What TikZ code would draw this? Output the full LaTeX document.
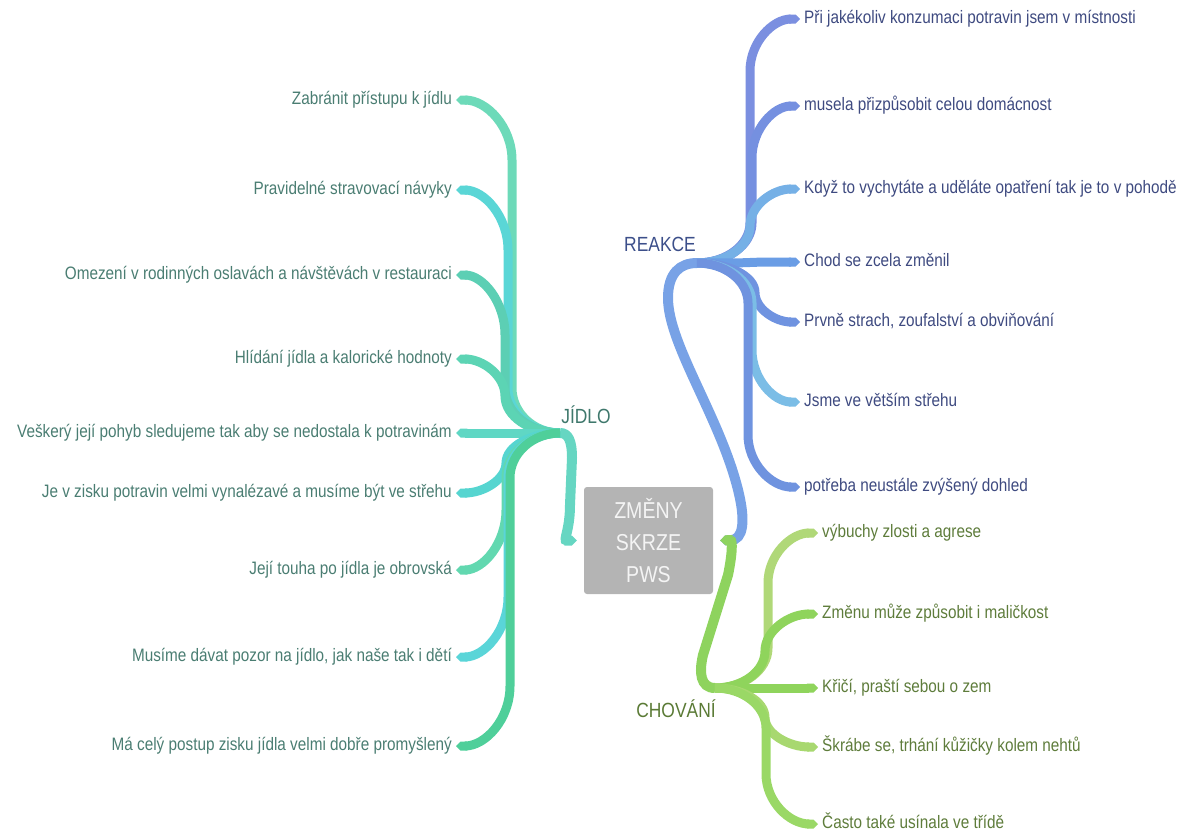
\documentclass[tikz,border=0pt]{standalone}
\usepackage{fontspec}
\setmainfont{Liberation Sans}[FakeStretch=0.85]
\usetikzlibrary{arrows.meta}

% box and text colours
\definecolor{boxgray}{HTML}{B4B4B4}
\definecolor{boxtext}{HTML}{F4F4F4}
\definecolor{foodtext}{HTML}{4A7D72}
\definecolor{foodlabel}{HTML}{3F786C}
\definecolor{reacttext}{HTML}{3E4A80}
\definecolor{reactlabel}{HTML}{3C4F8A}
\definecolor{behavtext}{HTML}{5E7C3B}
\definecolor{behavlabel}{HTML}{5A7A35}
% stems from the centre
\definecolor{foodstem}{HTML}{66D6C2}
\definecolor{reactstem}{HTML}{78A2E6}
\definecolor{behavstem}{HTML}{8ED35E}
% limb colours
\definecolor{fa}{HTML}{6DDAB9}\definecolor{fb}{HTML}{5AD6D6}\definecolor{fc}{HTML}{5CCFB4}
\definecolor{fd}{HTML}{5CD4B4}\definecolor{fe}{HTML}{5FD7C4}\definecolor{ff}{HTML}{56D5D0}
\definecolor{fg}{HTML}{62D8B0}\definecolor{fh}{HTML}{5AD5D8}\definecolor{fi}{HTML}{4FCF9A}
\definecolor{ra}{HTML}{7B8FE0}\definecolor{rb}{HTML}{7590E0}\definecolor{rc}{HTML}{75B0E6}
\definecolor{rd}{HTML}{6A9DE5}\definecolor{re}{HTML}{6F93E0}\definecolor{rf}{HTML}{7BBDE6}
\definecolor{rg}{HTML}{6F93DF}
\definecolor{ba}{HTML}{B0D878}\definecolor{bb}{HTML}{8FD45C}\definecolor{bc}{HTML}{8FD45C}
\definecolor{bd}{HTML}{A8D870}\definecolor{be}{HTML}{9AD866}

\newcommand\leaffont{\fontsize{18}{20}\selectfont}
\newcommand\hubfont{\fontsize{20.5}{24}\selectfont}
\newcommand\corefont{\fontsize{23}{32}\selectfont}

% limb from a hub (#2 at #3,#4) via a trunk at x=#5 to a leaf end (#7 at #8,#6)
\newcommand\mmbranch[8]{%
  \pgfmathsetmacro\bdy{#6-(#4)}%
  \pgfmathsetmacro\bha{min(\mmlimA,abs(\bdy)/2)*sign(\bdy)}%
  \pgfmathsetmacro\bhb{min(\mmlimB,abs(\bdy)/2)*sign(\bdy)}%
  \draw[limb,#1] (#2) .. controls ({#3+0.55*(#5-(#3))},#4) and (#5,{#4+0.45*\bha}) ..
    (#5,{#4+\bha}) -- (#5,{#6-\bhb}) .. controls (#5,{#6-0.45*\bhb}) and ({#8+0.55*(#5-(#8))},#6) .. (#7);
}

\begin{document}
\begin{tikzpicture}[x=1pt,y=-1pt,
  limb/.style={line width=9pt,line cap=butt,-{Triangle Cap}},
  stem/.style={line width=10pt,line cap=butt,{Triangle Cap}-},
  leafL/.style={anchor=mid east,inner xsep=4pt,inner ysep=0pt,font=\leaffont},
  leafR/.style={anchor=mid west,inner xsep=4pt,inner ysep=0pt,font=\leaffont},
  hub/.style={inner sep=0pt,font=\hubfont},
  core/.style={fill=boxgray,text=boxtext,rounded corners=3pt,minimum width=129pt,
    minimum height=107pt,align=center,font=\corefont,inner sep=0pt}]
\useasboundingbox (0,0) rectangle (1187,835);

% centre
\node[core] (center) at (648.5,540.5) {ZMĚNY\\SKRZE\\PWS};

% hubs
\coordinate (jJ) at (560,433);
\coordinate (jR) at (697,263);
\coordinate (jC) at (715,688);
\node[hub,text=foodlabel]  (lJ) at (586,415) {JÍDLO};
\node[hub,text=reactlabel] (lR) at (660,244) {REAKCE};
\node[hub,text=behavlabel] (lC) at (676,709) {CHOVÁNÍ};

% stems from the centre to the hubs
\draw[stem,foodstem] ([xshift=-7pt]center.west) .. controls +(-14,0) and +(0,25) .. (570,505)
  -- (572,458) .. controls +(0,-18) and +(8,0) .. (jJ);
\draw[stem,reactstem] ([xshift=7pt]center.east) .. controls (744,540) and (745,520) .. (739,494)
  .. controls (722,420) and (668,345) .. (668,298) .. controls (668,273) and (680,263) .. (jR);
\draw[stem,behavstem] ([xshift=7pt]center.east) .. controls (733,540) and (732,556) .. (728,575)
  -- (703,655) .. controls (699,672) and (700,688) .. (jC);

% JÍDLO (text sits 2pt below the limb's end)
\def\mmlimA{45}\def\mmlimB{60}
\foreach \nm/\yy/\tx/\col/\txt in {
  fza/100/512/fa/{Zabránit přístupu k jídlu},
  fzb/190/508/fb/{Pravidelné stravovací návyky},
  fzc/275/505/fc/{Omezení v rodinných oslavách a návštěvách v restauraci},
  fzd/359/505/fd/{Hlídání jídla a kalorické hodnoty},
  fze/433/505/fe/{Veškerý její pohyb sledujeme tak aby se nedostala k potravinám},
  fzf/493/506/ff/{Je v zisku potravin velmi vynalézavé a musíme být ve střehu},
  fzg/570/506/fg/{Její touha po jídla je obrovská},
  fzh/657/508/fh/{Musíme dávat pozor na jídlo, jak naše tak i dětí},
  fzi/746/510/fi/{Má celý postup zisku jídla velmi dobře promyšlený}}{
  \node[leafL,text=foodtext] (\nm) at (456,\yy+2) {\txt};
  \mmbranch{\col}{jJ}{560}{433}{\tx}{\yy}{[yshift=2pt]\nm.mid east}{456}
}

% REAKCE
\def\mmlimA{40}\def\mmlimB{52}
\foreach \nm/\yy/\tx/\col/\txt in {
  rza/19/750/ra/{Při jakékoliv konzumaci potravin jsem v místnosti},
  rzb/106/752/rb/{musela přizpůsobit celou domácnost},
  rzc/189/750/rc/{Když to vychytáte a uděláte opatření tak je to v pohodě},
  rzd/262/750/rd/{Chod se zcela změnil},
  rze/322/755/re/{Prvně strach, zoufalství a obviňování},
  rzf/402/752/rf/{Jsme ve větším střehu},
  rzg/487/748/rg/{potřeba neustále zvýšený dohled}}{
  \node[leafR,text=reacttext] (\nm) at (800,\yy+2) {\txt};
  \mmbranch{\col}{jR}{697}{263}{\tx}{\yy}{[yshift=2pt]\nm.mid west}{800}
}

% CHOVÁNÍ
\def\mmlimA{40}\def\mmlimB{50}
\foreach \nm/\yy/\tx/\col/\txt in {
  bza/533/768/ba/{výbuchy zlosti a agrese},
  bzb/614/765/bb/{Změnu může způsobit i maličkost},
  bzc/688/765/bc/{Křičí, praští sebou o zem},
  bzd/747/765/bd/{Škrábe se, trhání kůžičky kolem nehtů},
  bze/824/766/be/{Často také usínala ve třídě}}{
  \node[leafR,text=behavtext] (\nm) at (818,\yy+2) {\txt};
  \mmbranch{\col}{jC}{715}{688}{\tx}{\yy}{[yshift=2pt]\nm.mid west}{818}
}
\end{tikzpicture}
\end{document}
